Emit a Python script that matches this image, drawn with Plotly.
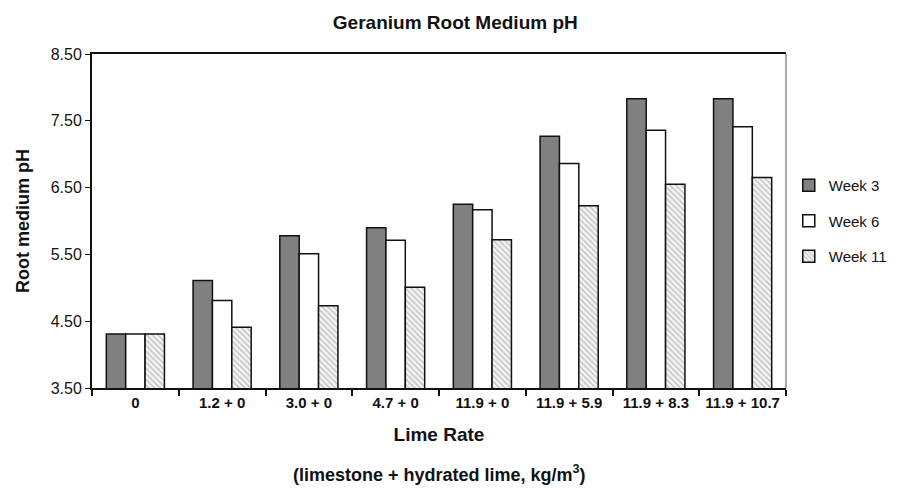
import plotly.graph_objects as go

categories = ["0", "1.2 + 0", "3.0 + 0", "4.7 + 0", "11.9 + 0", "11.9 + 5.9", "11.9 + 8.3", "11.9 + 10.7"]
week3 = [4.31, 5.11, 5.78, 5.90, 6.25, 7.27, 7.83, 7.83]
week6 = [4.31, 4.81, 5.51, 5.71, 6.17, 6.86, 7.36, 7.41]
week11 = [4.31, 4.41, 4.73, 5.01, 5.72, 6.23, 6.55, 6.65]
y_ticks = [3.5, 4.5, 5.5, 6.5, 7.5, 8.5]
y_ticklabels = ["3.50", "4.50", "5.50", "6.50", "7.50", "8.50"]

FONT = "Liberation Sans, Arial, Helvetica, sans-serif"

fig = go.Figure()
fig.add_trace(go.Bar(x=categories, y=week3, name="Week 3", legendgroup="a",
                     marker=dict(color="#808080", line=dict(color="#111111", width=1.5))))
fig.add_trace(go.Bar(x=categories, y=week6, name="Week 6", legendgroup="b",
                     marker=dict(color="#ffffff", line=dict(color="#111111", width=1.5))))
fig.add_trace(go.Bar(x=categories, y=week11, name="Week 11", legendgroup="c",
                     marker=dict(color="#ffffff", line=dict(color="#111111", width=1.5),
                                 pattern=dict(shape="\\", fgcolor="#8a8a8a", bgcolor="#f4f4f4",
                                              size=4, solidity=0.35))))

# page body has an 8px default margin, so the figure is offset by it
fig.update_layout(
    width=900, height=477,
    margin=dict(l=84, r=122, t=46, b=97),
    paper_bgcolor="white", plot_bgcolor="white",
    font=dict(family=FONT, color="#111111"),
    barmode="group", bargap=0.33, bargroupgap=0,
    title=dict(text="<b>Geranium Root Medium pH</b>", x=0.497, xanchor="center",
               y=0.97, yanchor="middle", font=dict(size=19, family=FONT)),
    showlegend=True,
    legend=dict(x=1.004, xanchor="left", y=0.50, yanchor="middle",
                font=dict(size=15, family=FONT), tracegroupgap=13,
                bgcolor="rgba(0,0,0,0)", borderwidth=0),
    xaxis=dict(showline=True, linecolor="#111111", linewidth=2, mirror=True,
               ticks="outside", ticklen=6, tickwidth=1.5, tickcolor="#111111",
               tickson="boundaries", showgrid=False, tickangle=0,
               tickfont=dict(size=15, family=FONT, weight="bold"),
               title=dict(text="<b>Lime Rate</b>", font=dict(size=19, family=FONT), standoff=18)),
    yaxis=dict(range=[3.5, 8.5], showline=True, linecolor="#111111", linewidth=2,
               ticks="outside", ticklen=5, tickwidth=1, tickcolor="#111111",
               tickvals=y_ticks, ticktext=y_ticklabels, showgrid=False, zeroline=False,
               tickfont=dict(size=16, family=FONT),
               title=dict(text="<b>Root medium pH</b>", font=dict(size=18, family=FONT), standoff=16)),
)

fig.add_shape(type="line", xref="paper", yref="paper", x0=1, x1=1, y0=0, y1=1,
              line=dict(color="#555555", width=1))

fig.add_annotation(text="<b>(limestone + hydrated lime, kg/m<sup>3</sup>)</b>",
                   xref="paper", yref="paper", x=0.5, y=-0.2545, xanchor="center", yanchor="middle",
                   showarrow=False, font=dict(size=18, family=FONT))

fig.write_html("out.html")
